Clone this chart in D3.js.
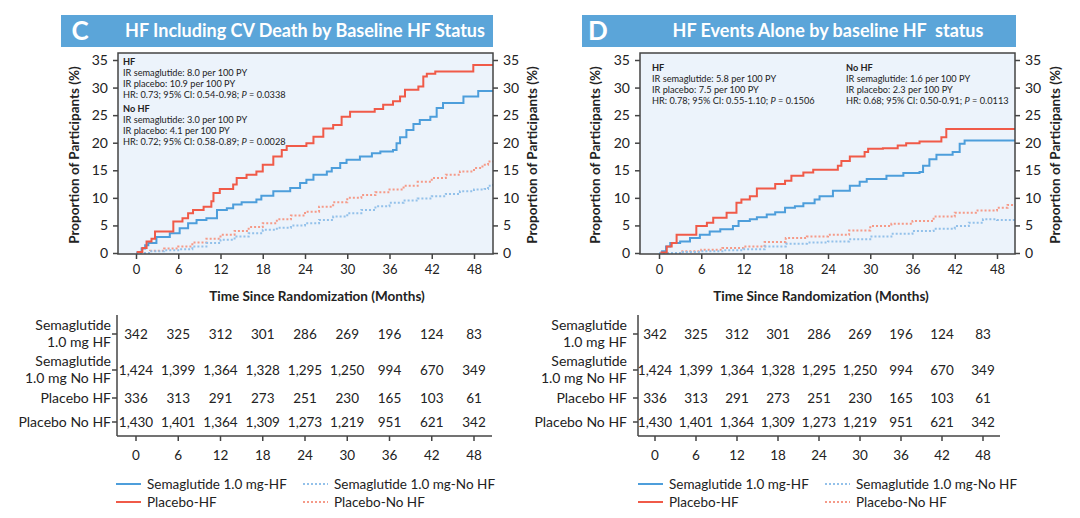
<!DOCTYPE html>
<html><head><meta charset="utf-8">
<script src="https://cdn.jsdelivr.net/npm/d3@7"></script>
<style>
html,body{margin:0;padding:0;background:#fff;}
svg{display:block;font-family:"Lato","Open Sans",sans-serif;}
</style></head>
<body>
<svg id="chart" width="1080" height="518"></svg>
<script>
// ---------- DATA ----------
const monthTicks = [0, 6, 12, 18, 24, 30, 36, 42, 48];
const yTicks = [0, 5, 10, 15, 20, 25, 30, 35];
const panelTitles = ["HF Including CV Death by Baseline HF Status", "HF Events Alone by baseline HF  status"];
const panelLetters = ["C", "D"];
const seriesNames = ["Semaglutide 1.0 mg-HF", "Placebo-HF", "Semaglutide 1.0 mg-No HF", "Placebo-No HF"];
const riskLabels = [["Semaglutide", "1.0 mg HF"], ["Semaglutide", "1.0 mg No HF"], ["Placebo HF"], ["Placebo No HF"]];
const riskSemaHF   = ["342", "325", "312", "301", "286", "269", "196", "124", "83"];
const riskSemaNoHF = ["1,424", "1,399", "1,364", "1,328", "1,295", "1,250", "994", "670", "349"];
const riskPlacHF   = ["336", "313", "291", "273", "251", "230", "165", "103", "61"];
const riskPlacNoHF = ["1,430", "1,401", "1,364", "1,309", "1,273", "1,219", "951", "621", "342"];

// Panel C (HF including CV death) — [month, %]
const cSemaHF = [[0.1,0.2],[0.8,0.8],[1.3,1.4],[1.75,1.8],[2.9,2.9],[4.8,3.6],[6.2,4.5],[7.4,5.4],[8.6,6.0],[10,6.3],[11.5,7.8],[12.9,8.1],[13.8,8.8],[15,9.2],[17.1,9.7],[17.8,10.4],[19.5,11.2],[21.9,11.8],[23.3,12.7],[24.2,13.3],[25.2,14.2],[27.1,14.8],[27.8,15.4],[29,16.3],[29.9,16.9],[31.8,17.5],[33.5,18.1],[34.7,18.4],[36.5,18.7],[37,19.9],[37.5,21.0],[38.4,22.3],[39.4,23.4],[40.3,24.1],[41.8,24.7],[42.7,26.3],[43.6,27.2],[46.5,28.4],[48.6,29.4],[50.7,29.4]];
const cPlacHF = [[0.1,0.2],[0.9,0.9],[1.5,2.1],[2.2,2.6],[2.7,3.9],[4.8,3.9],[5.3,5.7],[6.6,6.3],[7.4,7.2],[8.1,7.8],[9.6,8.4],[10.7,9.4],[11,10.9],[11.9,11.6],[13.8,12.4],[14.3,13.6],[15.7,14.2],[17.1,14.8],[18,16.0],[19.5,17.5],[20.7,18.7],[21.4,19.4],[24.2,19.9],[25.2,21.1],[26.6,22.6],[28,23.2],[29.2,24.7],[30.4,25.6],[33.9,26.1],[35.1,26.9],[36.5,27.5],[37.5,28.4],[38.2,29.6],[40.1,30.2],[40.8,32.0],[41.3,32.5],[42.5,32.9],[47.9,34.1],[50.7,34.1]];
const cSemaNoHF = [[0,0],[2,0.3],[4,0.5],[6,0.7],[8,1.2],[10,1.8],[12,2.4],[14,3.0],[16,3.6],[18,4.2],[20,4.6],[22,5.0],[24,5.4],[26,6.0],[28,6.6],[30,7.2],[32,7.8],[34,8.5],[36,9.1],[38,9.5],[40,9.9],[42,10.3],[44,10.7],[46,11.2],[48,11.5],[49.5,11.6],[50,12.2],[50.7,12.7]];
const cPlacNoHF = [[0,0],[2,0.4],[4,0.8],[6,1.2],[8,1.9],[10,2.6],[12,3.3],[14,4.0],[16,4.7],[18,5.4],[20,6.1],[22,6.8],[24,7.5],[26,8.4],[28,9.2],[30,10.0],[32,10.5],[34,11.0],[36,11.5],[38,12.2],[40,12.9],[42,13.6],[44,14.2],[46,14.8],[48,15.4],[49.2,16.0],[50,16.6],[50.7,16.7]];

// Panel D (HF events alone)
const dSemaHF = [[0.3,0.3],[1,1.2],[1.6,1.8],[3,2.1],[4.4,2.7],[5.8,3.3],[7.2,3.9],[8.7,4.3],[10.5,4.9],[11.3,5.8],[12.9,6.1],[13.9,6.5],[15.3,7.0],[16.5,7.4],[17.9,8.2],[19.3,8.5],[20.5,9.0],[22.1,9.7],[22.8,10.3],[24.7,11.3],[27.1,12.2],[28.5,12.9],[29.5,13.4],[32.3,14.0],[34.7,14.5],[37,14.7],[37.5,15.8],[38.4,17.0],[39.4,17.8],[41.7,18.3],[42.7,19.8],[43.4,20.4],[50.7,20.4]];
const dPlacHF = [[0.2,0.1],[1.1,1.2],[1.8,1.8],[2.5,3.3],[5.3,4.9],[6.8,5.5],[7.7,6.4],[9.6,7.3],[11,9.1],[11.7,9.7],[12.9,10.3],[13.9,11.7],[16.5,12.5],[17.9,13.1],[18.8,14.0],[20.5,14.6],[21.9,15.1],[25.4,15.8],[25.9,16.7],[27.1,17.5],[29.2,18.3],[29.7,18.9],[31.8,19.0],[33.9,19.5],[35.1,19.9],[37,20.2],[40.1,21.0],[40.8,22.5],[50.7,22.5]];
const dSemaNoHF = [[0,0],[3,0.2],[6,0.3],[9,0.5],[12,0.7],[15,1.2],[18,1.7],[21,1.9],[24,2.1],[27,2.5],[30,3.0],[33,3.5],[36,4.0],[39,4.4],[42,4.9],[44,5.5],[46,6.1],[48,6.0],[50.7,6.0]];
const dPlacNoHF = [[0,0],[3,0.3],[6,0.6],[9,0.9],[12,1.2],[15,2.0],[18,2.7],[21,3.0],[24,3.3],[27,4.1],[30,4.9],[33,5.3],[36,5.8],[39,6.6],[42,7.3],[45,7.7],[48,8.2],[49.5,8.7],[50.7,9.4]];

// ---------- STYLE ----------
const BLUE = "#4d9edb", RED = "#f05a48", BLUE_L = "#93c1ea", RED_L = "#f59a88";
const HEAD = "#5ba5d9", BG = "#ecf3fb", FRAME = "#444";

const panels = [
  { hx0: 61, hx1: 493, letterX: 80, titleX: 305, px0: 118, px1: 493, tableX0: 136, tableX1: 474, tAxisX: 117, tAxisEnd: 492, rowLabelX: 111,
    series: [cSemaHF, cPlacHF, cSemaNoHF, cPlacNoHF], xTitleX: 317,
    notes: [{x: 123, y: 65, lines: ["HF", "IR semaglutide: 8.0 per 100 PY", "IR placebo: 10.9 per 100 PY", ["HR: 0.73; 95% CI: 0.54-0.98; ", "P", " = 0.0338"]]},
            {x: 123, y: 112, lines: ["No HF", "IR semaglutide: 3.0 per 100 PY", "IR placebo: 4.1 per 100 PY", ["HR: 0.72; 95% CI: 0.58-0.89; ", "P", " = 0.0028"]]}],
    legX: 116, legX2: 303, yTitleL: 79, yTitleR: 537 },
  { hx0: 582, hx1: 1016, letterX: 598, titleX: 828, px0: 640, px1: 1015, tableX0: 655, tableX1: 983, tAxisX: 638, tAxisEnd: 1000, rowLabelX: 627,
    series: [dSemaHF, dPlacHF, dSemaNoHF, dPlacNoHF], xTitleX: 821,
    notes: [{x: 652, y: 71, lines: ["HF", "IR semaglutide: 5.8 per 100 PY", "IR placebo: 7.5 per 100 PY", ["HR: 0.78; 95% CI: 0.55-1.10; ", "P", " = 0.1506"]]},
            {x: 846, y: 71, lines: ["No HF", "IR semaglutide: 1.6 per 100 PY", "IR placebo: 2.3 per 100 PY", ["HR: 0.68; 95% CI: 0.50-0.91; ", "P", " = 0.0113"]]}],
    legX: 638, legX2: 825, yTitleL: 600, yTitleR: 1060 }
];
const riskRows = [riskSemaHF, riskSemaNoHF, riskPlacHF, riskPlacNoHF];

const svg = d3.select("#chart");

panels.forEach((p, pi) => {
  const g = svg.append("g");
  const plotTop = 53, plotBottom = 254;
  // header
  g.append("rect").attr("x", p.hx0).attr("y", 15).attr("width", p.hx1 - p.hx0).attr("height", 32).attr("fill", HEAD);
  g.append("text").attr("x", p.letterX).attr("y", 40).attr("fill", "#fff").attr("font-size", 26).attr("font-weight", 700).attr("text-anchor", "middle").text(panelLetters[pi]);
  g.append("text").attr("x", p.titleX).attr("y", 37).attr("fill", "#fff").attr("font-size", 18).attr("font-weight", 700).attr("text-anchor", "middle").attr("xml:space", "preserve").text(panelTitles[pi]);

  // scales
  const x0 = pi === 0 ? 136 : 659, x48 = pi === 0 ? 474 : 997;
  const x = d3.scaleLinear().domain([0, 48]).range([x0, x48]);
  const y = d3.scaleLinear().domain([0, 35]).range([253, 60]);

  g.append("rect").attr("x", p.px0).attr("y", plotTop).attr("width", p.px1 - p.px0).attr("height", plotBottom - plotTop).attr("fill", BG);

  // lines
  const clipId = "clip" + pi;
  g.append("clipPath").attr("id", clipId).append("rect").attr("x", p.px0).attr("y", plotTop).attr("width", p.px1 - p.px0).attr("height", plotBottom - plotTop);
  const line = d3.line().x(d => x(d[0])).y(d => y(d[1])).curve(d3.curveStepAfter);
  const styles = [
    {c: BLUE, dash: null, w: 2}, {c: RED, dash: null, w: 2},
    {c: BLUE_L, dash: "2,2", w: 2}, {c: RED_L, dash: "2,2", w: 2}
  ];
  [3, 2, 0, 1].forEach(si => {
    g.append("path").attr("clip-path", `url(#${clipId})`).attr("d", line(p.series[si])).attr("fill", "none")
      .attr("stroke", styles[si].c).attr("stroke-width", styles[si].w).attr("stroke-dasharray", styles[si].dash);
  });

  // frame
  g.append("rect").attr("x", p.px0).attr("y", plotTop).attr("width", p.px1 - p.px0).attr("height", plotBottom - plotTop)
    .attr("fill", "none").attr("stroke", FRAME).attr("stroke-width", 1.5);

  // axes
  const axL = g.append("g").attr("transform", `translate(${p.px0},0)`).call(d3.axisLeft(y).tickValues(yTicks).tickSize(5).tickPadding(5));
  const axR = g.append("g").attr("transform", `translate(${p.px1},0)`).call(d3.axisRight(y).tickValues(yTicks).tickSize(5).tickPadding(5));
  const axB = g.append("g").attr("transform", `translate(0,${plotBottom})`).call(d3.axisBottom(x).tickValues(monthTicks).tickSize(5).tickPadding(6));
  [axL, axR, axB].forEach(a => {
    a.select(".domain").remove();
    a.selectAll("line").attr("stroke", FRAME).attr("stroke-width", 1.5);
    a.selectAll("text").attr("font-size", 14).attr("fill", "#222").attr("font-family", "Lato, sans-serif");
  });
  axB.selectAll("text").attr("font-size", 13);

  // axis titles
  g.append("text").attr("x", p.xTitleX).attr("y", 301).attr("text-anchor", "middle").attr("font-size", 13.5).attr("font-weight", 700).attr("fill", "#222").text("Time Since Randomization (Months)");
  [p.yTitleL, p.yTitleR].forEach(tx => {
    g.append("text").attr("transform", `translate(${tx},155) rotate(-90)`).attr("text-anchor", "middle").attr("font-size", 13.5).attr("font-weight", 700).attr("fill", "#222").text("Proportion of Participants (%)");
  });

  // notes
  p.notes.forEach(n => {
    n.lines.forEach((ln, li) => {
      const t = g.append("text").attr("x", n.x).attr("y", n.y + li * 11).attr("font-size", 9.2).attr("fill", "#222");
      if (li === 0) { t.attr("font-weight", 700).text(ln); }
      else if (Array.isArray(ln)) {
        t.append("tspan").text(ln[0]);
        t.append("tspan").attr("font-style", "italic").text(ln[1]);
        t.append("tspan").text(ln[2]);
      } else t.text(ln);
    });
  });

  // risk table
  const tx = d3.scaleLinear().domain([0, 48]).range([p.tableX0, p.tableX1]);
  const rowY = [334, 370, 398, 422];
  const tg = g.append("g");
  tg.append("line").attr("x1", p.tAxisX).attr("x2", p.tAxisX).attr("y1", 315).attr("y2", 436).attr("stroke", FRAME).attr("stroke-width", 1.5);
  tg.append("line").attr("x1", p.tAxisX).attr("x2", p.tAxisEnd).attr("y1", 436).attr("y2", 436).attr("stroke", FRAME).attr("stroke-width", 1.5);
  monthTicks.forEach(m => {
    tg.append("line").attr("x1", tx(m)).attr("x2", tx(m)).attr("y1", 436).attr("y2", 441).attr("stroke", FRAME).attr("stroke-width", 1.5);
    tg.append("text").attr("x", tx(m)).attr("y", 460).attr("text-anchor", "middle").attr("font-size", 13.5).attr("fill", "#222").text(m);
  });
  rowY.forEach((ry, ri) => {
    tg.append("line").attr("x1", p.tAxisX - 5).attr("x2", p.tAxisX).attr("y1", ry).attr("y2", ry).attr("stroke", FRAME).attr("stroke-width", 1.5);
    const lab = riskLabels[ri];
    lab.forEach((s, k) => {
      const yy = lab.length === 2 ? ry - 4 + k * 17 : ry + 5;
      tg.append("text").attr("x", p.rowLabelX).attr("y", yy).attr("text-anchor", "end").attr("font-size", 14).attr("fill", "#222").text(s);
    });
    riskRows[ri].forEach((v, k) => {
      tg.append("text").attr("x", tx(monthTicks[k])).attr("y", ry + 5).attr("text-anchor", "middle").attr("font-size", 13.5).attr("fill", "#222").text(v);
    });
  });

  // legend
  const legItems = [
    {x: p.legX, y: 484, s: 0}, {x: p.legX, y: 502, s: 1}, {x: p.legX2, y: 484, s: 2}, {x: p.legX2, y: 502, s: 3}
  ];
  legItems.forEach(li => {
    const st = styles[li.s];
    g.append("line").attr("x1", li.x).attr("x2", li.x + 25).attr("y1", li.y).attr("y2", li.y).attr("stroke", st.c).attr("stroke-width", 2).attr("stroke-dasharray", st.dash);
    g.append("text").attr("x", li.x + 31).attr("y", li.y + 5).attr("font-size", 13.5).attr("fill", "#222").text(seriesNames[li.s]);
  });
});
</script>
</body></html>
